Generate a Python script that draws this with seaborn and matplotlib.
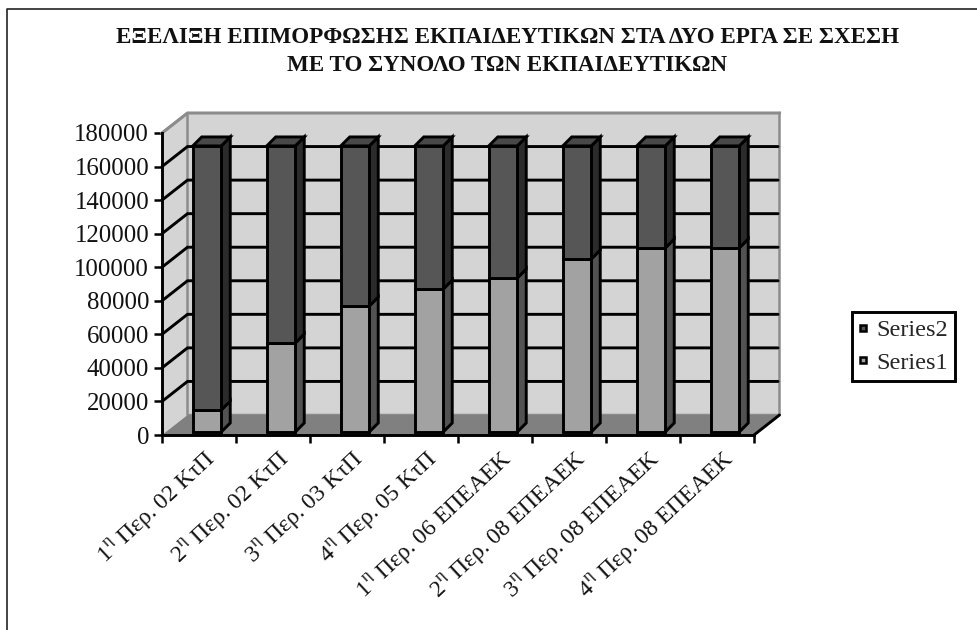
import matplotlib
matplotlib.use("Agg")
import matplotlib.pyplot as plt
import seaborn as sns
import pandas as pd
from matplotlib.lines import Line2D
from matplotlib.patches import Polygon, Rectangle
from matplotlib.transforms import Affine2D

# Values
periods = ["1$^{\\mathrm{η}}$ Περ. 02 ΚτΠ", "2$^{\\mathrm{η}}$ Περ. 02 ΚτΠ", "3$^{\\mathrm{η}}$ Περ. 03 ΚτΠ",
           "4$^{\\mathrm{η}}$ Περ. 05 ΚτΠ", "1$^{\\mathrm{η}}$ Περ. 06 ΕΠΕΑΕΚ", "2$^{\\mathrm{η}}$ Περ. 08 ΕΠΕΑΕΚ",
           "3$^{\\mathrm{η}}$ Περ. 08 ΕΠΕΑΕΚ", "4$^{\\mathrm{η}}$ Περ. 08 ΕΠΕΑΕΚ"]
series1 = [13100, 53000, 75100, 85200, 91800, 103100, 109700, 109700]
series2 = [157400, 117500, 95400, 85300, 78700, 67400, 60800, 60800]
y_ticks = [0, 20000, 40000, 60000, 80000, 100000, 120000, 140000, 160000, 180000]
title_text = "ΕΞΕΛΙΞΗ ΕΠΙΜΟΡΦΩΣΗΣ ΕΚΠΑΙΔΕΥΤΙΚΩΝ ΣΤΑ ΔΥΟ ΕΡΓΑ ΣΕ ΣΧΕΣΗ\nΜΕ ΤΟ ΣΥΝΟΛΟ ΤΩΝ ΕΚΠΑΙΔΕΥΤΙΚΩΝ"

sns.set_style("white")
plt.rcParams["font.family"] = ["Liberation Serif", "DejaVu Serif"]
plt.rcParams["mathtext.fontset"] = "custom"
plt.rcParams["mathtext.rm"] = "Liberation Serif"

W, H = 978, 630
fig = plt.figure(figsize=(W / 100, H / 100), dpi=100)
ax = fig.add_axes([162 / W, 1 - 435 / H, 592 / W, 302 / H])

df = pd.DataFrame({"period": periods, "s1": series1, "s2": series2})

# Colours
wall = "#d4d4d4"
floor = "#808080"
edge_grey = "#8c8c8c"
s1_front, s1_side = "#a2a2a2", "#525252"
s2_front, s2_side = "#565656", "#2b2b2b"
top_col = "#484848"
lw_main = 2.1

# Stacked bars, pushed slightly back from the axis plane
sns.barplot(data=df, x="period", y="s1", color=s1_front, width=0.385, saturation=1,
            edgecolor="black", linewidth=lw_main, zorder=3, ax=ax)
sns.barplot(data=df, x="period", y="s2", bottom=df["s1"], color=s2_front, width=0.385, saturation=1,
            edgecolor="black", linewidth=lw_main, zorder=3, ax=ax)

x0 = -0.608
x1 = x0 + 8
ymax = 180000
ax.set_xlim(x0, x1)
ax.set_ylim(0, ymax)

# Depth of the box and of each bar in data units
dx = 25.5 / 74
dy = 20 / 302 * ymax
bx = 9 / 74
by = 9 / 302 * ymax

# Walls and floor
ax.add_patch(Polygon([(x0 + dx, dy), (x1 + dx, dy), (x1 + dx, ymax + dy), (x0 + dx, ymax + dy)],
                     fc=wall, ec="none", clip_on=False, zorder=0.5))
ax.add_patch(Polygon([(x0, 0), (x0 + dx, dy), (x0 + dx, ymax + dy), (x0, ymax)],
                     fc=wall, ec="none", clip_on=False, zorder=0.5))
ax.add_patch(Polygon([(x0, 0), (x0 + dx, dy), (x1 + dx, dy), (x1, 0)],
                     fc=floor, ec="none", clip_on=False, zorder=0.7))
ax.plot([x0, x0 + dx, x0 + dx, x1 + dx, x1 + dx], [ymax, ymax + dy, dy, dy, ymax + dy],
        color=edge_grey, lw=1.8, clip_on=False, zorder=0.6)
ax.plot([x0, x0 + dx, x1 + dx], [ymax, ymax + dy, ymax + dy], color=edge_grey, lw=2.2,
        clip_on=False, zorder=0.6, solid_capstyle="projecting")

# Gridlines across side wall and back wall
for v in y_ticks[1:-1]:
    ax.plot([x0, x0 + dx, x1 + dx - 0.02], [v, v + dy, v + dy], color="black", lw=lw_main,
            clip_on=False, zorder=0.8, solid_joinstyle="miter")

# Depth faces of the bars, taken from the bars seaborn drew
n = len(periods)
shift = ax.transData + Affine2D().translate(0, 3)
for p in list(ax.patches):
    if not isinstance(p, Rectangle) or p.get_width() > 1:
        continue
    left, bot = p.get_x(), p.get_y()
    w, h = p.get_width(), p.get_height()
    side = s1_side if p.get_facecolor()[0] > 0.5 else s2_side
    r = left + w
    faces = [Polygon([(r, bot), (r + bx, bot + by), (r + bx, bot + h + by), (r, bot + h)], fc=side)]
    if side == s2_side:
        faces.append(Polygon([(left, bot + h), (left + bx, bot + h + by), (r + bx, bot + h + by), (r, bot + h)],
                             fc=top_col))
    for f in faces:
        f.set(ec="black", lw=lw_main, clip_on=False, zorder=2.5, joinstyle="miter")
        ax.add_patch(f)
        f.set_transform(shift)
    p.set_transform(shift)
    p.set_clip_on(False)

# Axes
sns.despine(ax=ax, top=True, right=True)
for s in ["left", "bottom"]:
    ax.spines[s].set_linewidth(lw_main)
    ax.spines[s].set_color("black")
    ax.spines[s].set_zorder(4)
ax.plot([x1, x1 + dx], [0, dy], color="black", lw=lw_main, clip_on=False, zorder=1)
ax.set_xlabel("")
ax.set_ylabel("")
ax.set_yticks(y_ticks)
ax.set_yticklabels([str(v) for v in y_ticks], fontsize=17.8, color="#111111")
ax.set_xticks([x0 + i for i in range(n + 1)])
ax.set_xticklabels([])
ax.set_xticks(range(n), labels=periods, minor=True)
ax.tick_params(axis="both", which="major", direction="out", length=5.8, width=1.8, color="black",
               bottom=True, left=True)
ax.tick_params(axis="y", pad=3.5)
ax.tick_params(axis="x", which="minor", length=0, bottom=False, pad=8)
for t in ax.get_xticklabels(minor=True):
    t.set(rotation=43, ha="right", va="top", rotation_mode="anchor", fontsize=17, color="#111111")
    t.set_transform(t.get_transform() + Affine2D().translate(-3, 0))

# Legend
handles = [Line2D([], [], ls="none", marker="s", ms=5, mfc=s2_front, mec="black", mew=1.8, label="Series2"),
           Line2D([], [], ls="none", marker="s", ms=5, mfc=s1_front, mec="black", mew=1.8, label="Series1")]
leg = fig.legend(handles=handles, loc="center", bbox_to_anchor=(903.5 / W, 1 - 346.5 / H), fontsize=17.5,
                 frameon=True, fancybox=False, edgecolor="black", framealpha=1, handlelength=0.4,
                 handletextpad=0.35, labelspacing=0.45, borderpad=0.27, borderaxespad=0)
leg.get_frame().set_linewidth(lw_main)

# Title and outer frame
fig.text(507.5 / W, 1 - 51.5 / H, title_text, ha="center", va="center", fontsize=16.6, fontweight="bold",
         color="#111111", linespacing=1.42)
fig.add_artist(Line2D([7 / W, 7 / W, 1], [0, 1 - 9 / H, 1 - 9 / H], color="#222222", lw=1.2))

fig.savefig("out.png", dpi=100)
